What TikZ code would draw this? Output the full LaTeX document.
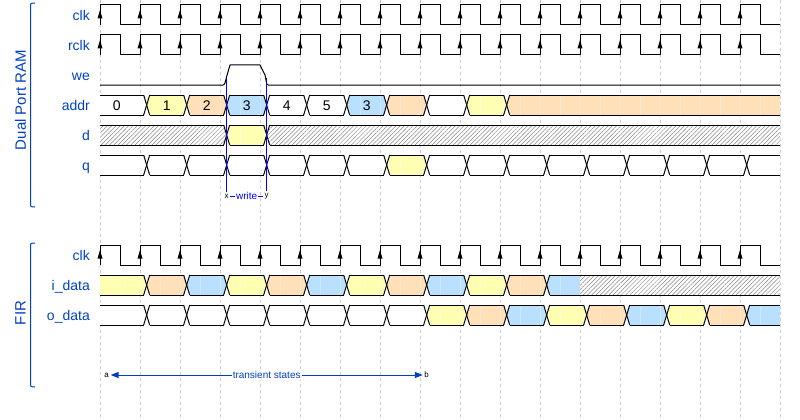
\documentclass[tikz,border=0pt]{standalone}
\usepackage{fontspec}
\setmainfont{Liberation Sans}
\usetikzlibrary{patterns.meta,arrows.meta}
\definecolor{wblue}{HTML}{0041C4}
\definecolor{eblue}{HTML}{0000FF}
\definecolor{cY}{HTML}{FFFFB4}
\definecolor{cO}{HTML}{FFE0B9}
\definecolor{cB}{HTML}{B9E0FF}
\definecolor{gridc}{HTML}{CCCCCC}
\definecolor{hatchc}{HTML}{888888}
\tikzset{
 sig/.style={black, line width=1pt, line join=round},
 gridline/.style={gridc, line width=0.8pt, dash pattern=on 3pt off 3pt},
 lane/.style={wblue, font=\fontsize{14}{14}\selectfont, anchor=base east, inner sep=0pt},
 grp/.style={wblue, font=\fontsize{15}{15}\selectfont, rotate=90, inner sep=0pt},
 dtext/.style={font=\fontsize{14}{14}\selectfont, anchor=base, inner sep=0pt},
 seam/.style={white, opacity=0.3, line width=0.6pt},
 hatchpat/.style={pattern={Lines[angle=45,distance=3pt,line width=0.5pt]}, pattern color=hatchc},
 brace/.style={wblue, line width=1pt},
 edgeb/.style={eblue, line width=1pt},
 tarrow/.style={wblue, line width=1pt, {Triangle[length=8pt,width=6pt]}-{Triangle[length=8pt,width=6pt]}},
 nlabel/.style={font=\fontsize{8}{8}\selectfont, fill=white, inner sep=1.5pt},
 elabel/.style={font=\fontsize{10}{10}\selectfont, fill=white, inner sep=1pt},
}
\newcommand\segcalc[3]{%
 \pgfmathsetmacro\aL{ifthenelse(#1<100.5 || abs(#1-580)<0.5, 0, 3)}%
 \pgfmathsetmacro\aR{ifthenelse(#2>779.5 || abs(#2-580)<0.5, 0, 3)}%
 \pgfmathsetmacro\yM{#3+10}%
 \pgfmathsetmacro\yB{#3+20}%
 \pgfmathsetmacro\xL{#1+\aL}%
 \pgfmathsetmacro\xR{#2-\aR}%
}
\newcommand\busfill[4]{%
 \segcalc{#1}{#2}{#3}%
 \fill[fill=#4] (#1,\yM) -- (\xL,#3) -- (\xR,#3) -- (#2,\yM) -- (\xR,\yB) -- (\xL,\yB) -- cycle;
 \begin{scope}
 \clip (#1,\yM) -- (\xL,#3) -- (\xR,#3) -- (#2,\yM) -- (\xR,\yB) -- (\xL,\yB) -- cycle;
 \foreach \g in {120,140,...,760} {\draw[seam] (\g,#3) -- (\g,\yB);}
 \end{scope}
}
\newcommand\bushatch[3]{%
 \segcalc{#1}{#2}{#3}%
 \fill[white] (#1,\yM) -- (\xL,#3) -- (\xR,#3) -- (#2,\yM) -- (\xR,\yB) -- (\xL,\yB) -- cycle;
 \fill[hatchpat] (#1,\yM) -- (\xL,#3) -- (\xR,#3) -- (#2,\yM) -- (\xR,\yB) -- (\xL,\yB) -- cycle;
}
\newcommand\busline[3]{%
 \segcalc{#1}{#2}{#3}%
 \draw[sig] (\xL,#3) -- (\xR,#3);
 \draw[sig] (\xL,\yB) -- (\xR,\yB);
 \ifdim\aL pt>0pt \draw[sig] (\xL,#3) -- (#1,\yM) -- (\xL,\yB);\fi
 \ifdim\aR pt>0pt \draw[sig] (\xR,#3) -- (#2,\yM) -- (\xR,\yB);\fi
}
\newcommand\clocklane[1]{%
 \draw[sig] (100,#1+20) \foreach \k in {0,...,16}{ -- ++(0,-20) -- ++(20,0) -- ++(0,20) -- ++(20,0)};
 \foreach \k in {0,...,16} {\fill ({100+40*\k},#1+5) -- ++(-2.5,8.5) -- ++(5,0) -- cycle;}
}
\def\addrlist{100/146.67/white, 146.67/186.67/cY, 186.67/226.67/cO, 226.67/266.67/cB, 266.67/306.67/white, 306.67/346.67/white, 346.67/386.67/cB, 386.67/426.67/cO, 426.67/466.67/white, 466.67/506.67/cY, 506.67/780/cO}
\def\qlist{100/146.67/white, 146.67/186.67/white, 186.67/226.67/white, 226.67/266.67/white, 266.67/306.67/white, 306.67/346.67/white, 346.67/386.67/white, 386.67/426.67/cY, 426.67/466.67/white, 466.67/506.67/white, 506.67/546.67/white, 546.67/586.67/white, 586.67/626.67/white, 626.67/666.67/white, 666.67/706.67/white, 706.67/746.67/white, 746.67/780/white}
\def\ilist{100/146.67/cY, 146.67/186.67/cO, 186.67/226.67/cB, 226.67/266.67/cY, 266.67/306.67/cO, 306.67/346.67/cB, 346.67/386.67/cY, 386.67/426.67/cO, 426.67/466.67/cB, 466.67/506.67/cY, 506.67/546.67/cO, 546.67/580/cB}
\def\olist{100/146.67/white, 146.67/186.67/white, 186.67/226.67/white, 226.67/266.67/white, 266.67/306.67/white, 306.67/346.67/white, 346.67/386.67/white, 386.67/426.67/white, 426.67/466.67/cY, 466.67/506.67/cO, 506.67/546.67/cB, 546.67/586.67/cY, 586.67/626.67/cO, 626.67/666.67/cB, 666.67/706.67/cY, 706.67/746.67/cO, 746.67/780/cB}
\begin{document}
\begin{tikzpicture}[x=1pt,y=-1pt]
\useasboundingbox (0,0) rectangle (800,420);
\fill[white] (0,0) rectangle (800,420);
% grid
\foreach \g in {100,140,...,780} {\draw[gridline] (\g,0) -- (\g,420);}
% group labels and braces
\node[grp] (gram) at (20.5,100) {Dual Port RAM};
\node[grp] (gfir) at (20.5,313) {FIR};
\draw[brace] (35,3) .. controls (30.5,3) .. (30.5,8) -- (30.5,202) .. controls (30.5,207) .. (35,207);
\draw[brace] (35,243) .. controls (30.5,243) .. (30.5,248) -- (30.5,382) .. controls (30.5,387) .. (35,387);
% lane names
\node[lane] (lclk) at (90,20.5) {clk};
\node[lane] (lrclk) at (90,50.5) {rclk};
\node[lane] (lwe) at (90,80.5) {we};
\node[lane] (laddr) at (90,110.5) {addr};
\node[lane] (ld) at (90,140.5) {d};
\node[lane] (lq) at (90,170.5) {q};
\node[lane] (lclkb) at (90,260.5) {clk};
\node[lane] (lidata) at (90,290.5) {i\_data};
\node[lane] (lodata) at (90,320.5) {o\_data};
% clocks
\clocklane{5}
\clocklane{35}
\clocklane{245}
% we
\draw[sig] (100,85) -- (223,85) .. controls (225.3,85) and (225.6,80) .. (226.5,77) -- (230,65) -- (260,65) -- (265,75) .. controls (266,78) and (266,85) .. (268,85) -- (780,85);
% addr
\foreach \xa/\xb/\cc in \addrlist {\busfill{\xa}{\xb}{95}{\cc}}
\foreach \xa/\xb/\cc in \addrlist {\busline{\xa}{\xb}{95}}
\node[dtext] (v0) at (116.67,110.5) {0};
\node[dtext] (v1) at (166.67,110.5) {1};
\node[dtext] (v2) at (206.67,110.5) {2};
\node[dtext] (v3) at (246.67,110.5) {3};
\node[dtext] (v4) at (286.67,110.5) {4};
\node[dtext] (v5) at (326.67,110.5) {5};
\node[dtext] (v6) at (366.67,110.5) {3};
% d
\bushatch{100}{226.67}{125}
\busfill{226.67}{266.67}{125}{cY}
\bushatch{266.67}{780}{125}
\busline{100}{226.67}{125}
\busline{226.67}{266.67}{125}
\busline{266.67}{780}{125}
% q
\foreach \xa/\xb/\cc in \qlist {\busfill{\xa}{\xb}{155}{\cc}}
\foreach \xa/\xb/\cc in \qlist {\busline{\xa}{\xb}{155}}
% i_data
\foreach \xa/\xb/\cc in \ilist {\busfill{\xa}{\xb}{275}{\cc}}
\bushatch{580}{780}{275}
\foreach \xa/\xb/\cc in \ilist {\busline{\xa}{\xb}{275}}
\busline{580}{780}{275}
% o_data
\foreach \xa/\xb/\cc in \olist {\busfill{\xa}{\xb}{305}{\cc}}
\foreach \xa/\xb/\cc in \olist {\busline{\xa}{\xb}{305}}
% write marker
\coordinate (xt) at (226.67,78);
\coordinate (yt) at (266.67,78);
\node[nlabel] (x) at (226.67,196) {x};
\node[nlabel] (y) at (266.67,196) {y};
\draw[edgeb] (xt) -- (x);
\draw[edgeb] (yt) -- (y);
\draw[edgeb] (x) -- (y) node[midway, elabel] (w) {write};
% transient states
\node[nlabel] (a) at (106.67,375) {a};
\node[nlabel] (b) at (426.67,375) {b};
\draw[tarrow] (a) -- (b) node[midway, elabel] (ts) {transient states};
\end{tikzpicture}
\end{document}
